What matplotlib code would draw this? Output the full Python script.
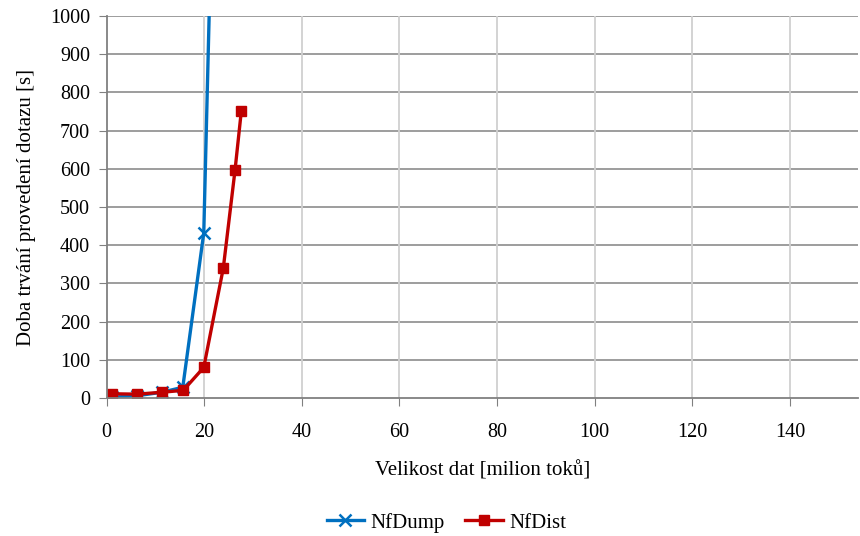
import matplotlib.pyplot as plt

# query time vs. data size
dump_x = [1.2, 6.3, 11.3, 15.6, 19.9, 24.0]
dump_y = [2, 6, 15, 28, 432, 2550]
dist_x = [1.2, 6.3, 11.3, 15.7, 19.9, 23.9, 26.3, 27.6]
dist_y = [11, 10, 15, 20, 80, 340, 596, 752]

x_ticks = [0, 20, 40, 60, 80, 100, 120, 140]
y_ticks = list(range(0, 1001, 100))

plt.rcParams['font.family'] = ['Liberation Serif', 'DejaVu Serif']

fig = plt.figure(figsize=(8.6, 5.36), dpi=100)
ax = fig.add_axes([0.124, 0.2575, 0.874, 0.7125])

ax.plot(dump_x, dump_y, color='#0070C0', lw=2.4, marker='x', ms=8, mew=1.8,
        label='NfDump', clip_on=True)
ax.plot(dist_x, dist_y, color='#C00000', lw=2.4, marker='s', ms=6.5,
        label='NfDist', clip_on=True)

ax.set_xlim(0, 154)
ax.set_ylim(0, 1000)
ax.set_xticks(x_ticks)
ax.set_yticks(y_ticks)
ax.tick_params(direction='out', length=6, color='#808080', labelsize=14.5)
ax.tick_params(axis='x', pad=12)
ax.tick_params(axis='y', pad=6)

# horizontal grid darker than vertical
for y in y_ticks[1:]:
    ax.axhline(y, color='#959595', lw=1.3, zorder=0)
for x in x_ticks[1:]:
    ax.axvline(x, color='#d0d0d0', lw=1.3, zorder=0)

for side in ['top', 'right']:
    ax.spines[side].set_visible(False)
for side in ['left', 'bottom']:
    ax.spines[side].set_color('#808080')
    ax.spines[side].set_linewidth(1.3)

ax.set_xlabel('Velikost dat [milion toků]', fontsize=15, labelpad=14)
ax.set_ylabel('Doba trvání provedení dotazu [s]', fontsize=15, labelpad=10)

fig.legend(loc='center', bbox_to_anchor=(0.519, 0.025), ncol=2, frameon=False,
           fontsize=15, handlelength=1.8, handletextpad=0.3, columnspacing=1.0)

fig.savefig('out.png', dpi=100)
